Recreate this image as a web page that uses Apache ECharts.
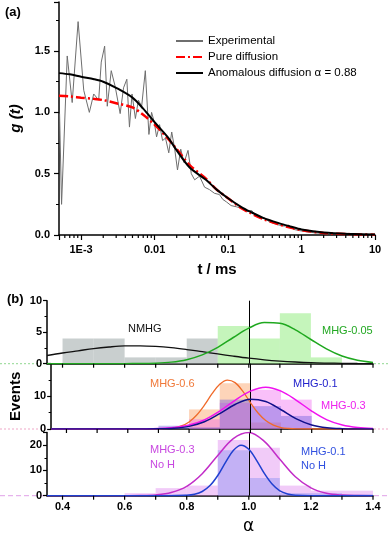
<!DOCTYPE html>
<html><head><meta charset="utf-8">
<script src="https://cdn.jsdelivr.net/npm/echarts@6/dist/echarts.min.js"></script>
<style>html,body{margin:0;padding:0;background:#fff}#c{width:389px;height:536px}</style>
</head><body><div id="c"></div>
<script>
// ---------- Panel (a): correlation curves ----------
const expT = [5.09e-4,5.42e-4,6.47e-4,7.56e-4,9.10e-4,1.086e-3,1.294e-3,1.485e-3,1.734e-3,1.88e-3,2.09e-3,2.27e-3,2.57e-3,2.91e-3,3.40e-3,3.78e-3,4.19e-3,4.55e-3,4.93e-3,5.48e-3,6.02e-3,6.67e-3,7.48e-3,8.37e-3,9.10e-3,9.90e-3,1.064e-2,1.169e-2,1.284e-2,1.409e-2,1.56e-2,1.71e-2,1.88e-2,2.05e-2,2.27e-2,2.52e-2,2.85e-2,3.16e-2,3.51e-2,4.09e-2,4.79e-2,5.59e-2,6.53e-2,7.63e-2,8.48e-2,0.095,0.11,0.13,0.15,0.18,0.21,0.23,0.27,0.31,0.36,0.42,0.5,0.58,0.67,0.79,0.95,1.2,1.5,2.0];
const expG = [0.99,0.25,1.46,1.08,1.74,1.18,1.00,1.15,1.10,1.41,1.54,1.05,1.34,1.21,0.99,1.20,1.27,0.88,1.15,0.95,1.10,1.05,1.34,0.82,1.00,0.92,0.80,0.90,0.77,0.79,0.67,0.84,0.70,0.53,0.70,0.59,0.69,0.50,0.45,0.48,0.39,0.37,0.34,0.33,0.29,0.27,0.24,0.23,0.22,0.19,0.20,0.17,0.14,0.14,0.11,0.095,0.08,0.073,0.08,0.045,0.035,0.025,0.018,0.012];
const fitT = [5e-4,7e-4,1e-3,1.5e-3,2e-3,3e-3,5e-3,7e-3,0.01,0.015,0.02,0.03,0.05,0.07,0.1,0.15,0.2,0.3,0.5,0.7,1,2,5,10];
const pureG = [1.135,1.13,1.12,1.11,1.10,1.075,1.04,0.98,0.90,0.79,0.70,0.57,0.46,0.37,0.30,0.22,0.18,0.13,0.085,0.06,0.04,0.017,0.006,0.003];
const anomG = [1.32,1.31,1.29,1.27,1.25,1.20,1.12,1.03,0.92,0.80,0.69,0.55,0.45,0.37,0.30,0.23,0.19,0.14,0.095,0.07,0.045,0.02,0.008,0.004];
const logTickValues = [1e-3,1e-2,1e-1,1,10];
const logTickLabels = ['1E-3','0.01','0.1','1','10'];

// ---------- Panel (b): alpha histograms ----------
const alphaTicks = [0.4,0.5,0.6,0.7,0.8,0.9,1.0,1.1,1.2,1.3,1.4];
const alphaWide = [0.35,0.4,0.45,0.5,0.55,0.6,0.65,0.7,0.75,0.8,0.85,0.9,0.95,1.0,1.05,1.1,1.15,1.2,1.25,1.3,1.35,1.4];
// top
const nmhgBins = [0.4,0.5,0.6,0.7,0.8];
const nmhgCounts = [4,4,1,1,4];
const nmhgFit = [1.3,1.7,2.05,2.4,2.65,2.82,2.84,2.75,2.55,2.25,1.9,1.55,1.2,0.88,0.62,0.42,0.27,0.16,0.1,0.06,0.03,0.02];
const mhg005Bins = [0.9,1.0,1.1,1.2];
const mhg005Counts = [6,4,8,1];
const mhg005Fit = [0,0,0,0,0,0.01,0.02,0.08,0.25,0.64,1.4,2.6,4.16,5.64,6.52,6.41,5.38,3.84,2.34,1.21,0.54,0.2];
// middle
const mhg06Bins = [0.8,0.9,1.0];
const mhg06Counts = [6,14,2];
const mhg06X = [0.35,0.65,0.7,0.75,0.775,0.8,0.825,0.85,0.875,0.9,0.925,0.95,0.975,1.0,1.025,1.05,1.075,1.1,1.125,1.15,1.2,1.4];
const mhg06Fit = [0,0,0.03,0.35,0.94,2.16,4.3,7.3,10.8,13.7,15.0,14.2,11.6,8.1,4.9,2.6,1.2,0.45,0.15,0.04,0,0];
const mhg01Bins = [0.7,0.8,0.9,1.0,1.1];
const mhg01Counts = [1,0.5,9,7,4];
const mhg01Fit = [0,0,0,0,0,0,0.01,0.05,0.22,0.8,2.2,4.7,7.5,9.15,8.4,5.9,3.1,1.25,0.38,0.09,0.02,0];
const mhg03Bins = [0.8,0.9,1.0,1.1];
const mhg03Counts = [3,8,12,9];
const mhg03Fit = [0,0,0,0,0,0.01,0.03,0.12,0.43,1.2,2.8,5.5,8.8,11.6,12.8,11.6,8.8,5.5,2.8,1.2,0.43,0.12];
// bottom
const mhg03nhBins = [0.6,0.7,0.8,0.9,1.0,1.1,1.2,1.3];
const mhg03nhCounts = [1,3,4,22,19,4,2,2];
const mhg03nhFit = [0,0,0,0,0,0.01,0.06,0.32,1.25,3.7,8.7,15.9,22.6,25.0,21.5,14.4,7.5,3.1,0.97,0.24,0.05,0.01];
const mhg01nhBins = [0.7,0.9,1.0,1.1,1.2,1.3];
const mhg01nhCounts = [0.5,18,7,1,1,0.5];
const mhg01nhX = [0.35,0.75,0.8,0.825,0.85,0.875,0.9,0.925,0.95,0.975,1.0,1.025,1.05,1.075,1.1,1.125,1.15,1.2,1.4];
const mhg01nhFit = [0,0.01,0.16,0.57,1.67,4.0,8.0,13.2,17.9,20.0,18.4,14.0,8.8,4.6,1.9,0.69,0.2,0.01,0];
const BIN_W = 0.1;

const FONT = 'Liberation Sans, Arial, sans-serif';
const zip = (xs, ys) => xs.map((x, i) => [x, ys[i]]);

function histSeries(idx, bins, counts, fill, extra) {
  return Object.assign({
    type: 'custom', xAxisIndex: idx, yAxisIndex: idx, silent: true,
    data: zip(bins, counts),
    encode: {x: 0, y: 1},
    renderItem: function (params, api) {
      const x0 = api.value(0), h = api.value(1);
      const p0 = api.coord([x0, h]);
      const p1 = api.coord([x0 + BIN_W, 0]);
      return {type: 'rect', shape: {x: p0[0], y: p0[1], width: p1[0] - p0[0], height: p1[1] - p0[1]},
        style: {fill: fill}};
    }
  }, extra || {});
}
function curveSeries(idx, xs, ys, color, width, extra) {
  return Object.assign({
    type: 'line', xAxisIndex: idx, yAxisIndex: idx, data: zip(xs, ys),
    smooth: 0.35, symbol: 'none', silent: true,
    lineStyle: {color: color, width: width || 1.3}, z: 5
  }, extra || {});
}
function tickSeries(idx, values, len) {
  return {
    type: 'custom', xAxisIndex: idx, yAxisIndex: idx, silent: true, z: 10,
    data: values.map(v => [v, 0]), encode: {x: 0, y: 1},
    renderItem: function (params, api) {
      const p = api.coord([api.value(0), 0]);
      return {type: 'line', shape: {x1: p[0], y1: p[1], x2: p[0], y2: p[1] + len},
        style: {stroke: '#000', lineWidth: 1.2}};
    }
  };
}
const vLine = {silent: true, symbol: ['none', 'none'], data: [{xAxis: 1.0}],
  lineStyle: {color: '#000', width: 1, type: 'solid'}, label: {show: false}};

// minor log tick positions (2..9 in each decade)
const logMinor = [];
for (let d = -4; d <= 0; d++) for (let m = 2; m <= 9; m++) {
  const v = m * Math.pow(10, d);
  if (v > 5e-4 && v < 10) logMinor.push(v);
}

const axisLineStyle = {show: true, onZero: false, lineStyle: {color: '#000', width: 1.5}};
const labelStyle = {color: '#000', fontWeight: 'bold', fontSize: 11, fontFamily: FONT};

function bAxisX(idx, showLabel) {
  return {
    type: 'value', gridIndex: idx, min: 0.35, max: 1.4, interval: 0.05,
    axisLine: axisLineStyle, axisTick: {show: false}, splitLine: {show: false},
    axisLabel: Object.assign({show: showLabel, margin: 6, formatter: function (v) {
      const k = Math.round(v * 100);
      return k % 20 === 0 ? (k / 100).toFixed(1) : '';
    }}, labelStyle)
  };
}
function bAxisY(idx, max, interval, extra) {
  return Object.assign({
    type: 'value', gridIndex: idx, min: 0, max: max, interval: interval,
    axisLine: {show: true, lineStyle: {color: '#000', width: 1.5}},
    axisTick: {show: true, length: 4, lineStyle: {width: 1.2}},
    minorTick: {show: true, splitNumber: 2, length: 2.5, lineStyle: {color: '#000', width: 1}},
    splitLine: {show: false},
    axisLabel: Object.assign({margin: 5, showMaxLabel: interval === 5}, labelStyle)
  }, extra || {});
}

const option = {
  animation: false,
  backgroundColor: '#fff',
  textStyle: {fontFamily: FONT},
  grid: [
    {left: 57, right: 14, top: 2, height: 233},
    {left: 47, right: 16, top: 300.7, height: 63},
    {left: 47, right: 16, top: 363.7, height: 65.3},
    {left: 47, right: 16, top: 432.5, height: 63.2}
  ],
  legend: {
    data: ['Experimental', 'Pure diffusion', 'Anomalous diffusion \u03b1 = 0.88'],
    orient: 'vertical', left: 170, top: 30, itemWidth: 27, itemHeight: 10, itemGap: 4,
    itemStyle: {opacity: 0},
    textStyle: {fontSize: 11.5, color: '#000', fontFamily: FONT}
  },
  xAxis: [
    {
      type: 'log', gridIndex: 0, logBase: 10, min: 5e-4, max: 10,
      axisLine: axisLineStyle,
      axisTick: {show: true, length: 5, lineStyle: {width: 1.2}},
      minorTick: {show: false}, splitLine: {show: false},
      axisLabel: Object.assign({margin: 9, formatter: function (v) {
        for (let i = 0; i < logTickValues.length; i++) {
          if (Math.abs(Math.log10(v) - Math.log10(logTickValues[i])) < 1e-6) return logTickLabels[i];
        }
        return '';
      }}, labelStyle),
      name: 't / ms', nameLocation: 'middle', nameGap: 27,
      nameTextStyle: {fontWeight: 'bold', fontSize: 15, color: '#000', fontFamily: FONT}
    },
    bAxisX(1, false), bAxisX(2, false), bAxisX(3, true)
  ],
  yAxis: [
    {
      type: 'value', gridIndex: 0, min: 0, max: 1.9, interval: 0.5,
      axisLine: {show: true, lineStyle: {color: '#000', width: 1.5}},
      axisTick: {show: true, length: 5, lineStyle: {width: 1.2}},
      minorTick: {show: true, splitNumber: 2, length: 3, lineStyle: {color: '#000', width: 1}},
      splitLine: {show: false},
      axisLabel: Object.assign({margin: 9, showMaxLabel: false, formatter: v => v.toFixed(1)}, labelStyle),
      name: 'g (t)', nameLocation: 'middle', nameGap: 36,
      nameTextStyle: {fontWeight: 'bold', fontStyle: 'italic', fontSize: 15, color: '#000', fontFamily: FONT}
    },
    bAxisY(1, 10, 5),
    bAxisY(2, 20, 10, {name: 'Events', nameLocation: 'middle', nameGap: 28,
      nameTextStyle: {fontWeight: 'bold', fontSize: 15, color: '#000', fontFamily: FONT}}),
    bAxisY(3, 25, 10)
  ],
  series: [
    // panel (a)
    {name: 'Experimental', type: 'line', xAxisIndex: 0, yAxisIndex: 0, data: zip(expT, expG),
      symbol: 'none', lineStyle: {color: '#6e6e6e', width: 1}, z: 2, silent: true},
    {name: 'Pure diffusion', type: 'line', xAxisIndex: 0, yAxisIndex: 0, data: zip(fitT, pureG),
      smooth: 0.3, symbol: 'none', lineStyle: {color: '#ff0000', width: 2.5, type: [9, 3, 2, 3]}, z: 3, silent: true},
    {name: 'Anomalous diffusion \u03b1 = 0.88', type: 'line', xAxisIndex: 0, yAxisIndex: 0, data: zip(fitT, anomG),
      smooth: 0.3, symbol: 'none', lineStyle: {color: '#000', width: 2}, z: 4, silent: true},
    tickSeries(0, logMinor, 3),

    // panel (b) top
    histSeries(1, nmhgBins, nmhgCounts, 'rgba(165,175,175,0.6)'),
    histSeries(1, mhg005Bins, mhg005Counts, 'rgba(140,235,120,0.5)'),
    curveSeries(1, alphaWide, nmhgFit, '#111', 1.3),
    curveSeries(1, alphaWide, mhg005Fit, '#1fa81f', 1.5, {markLine: vLine}),
    tickSeries(1, alphaTicks, 4),

    // panel (b) middle
    histSeries(2, mhg06Bins, mhg06Counts, 'rgba(250,160,100,0.45)'),
    histSeries(2, mhg03Bins, mhg03Counts, 'rgba(240,90,240,0.38)'),
    histSeries(2, mhg01Bins, mhg01Counts, 'rgba(100,90,220,0.4)'),
    curveSeries(2, mhg06X, mhg06Fit, '#f06a2a', 1.3),
    curveSeries(2, alphaWide, mhg03Fit, '#f012f0', 1.5),
    curveSeries(2, alphaWide, mhg01Fit, '#10108a', 1.5, {markLine: vLine}),
    tickSeries(2, alphaTicks, 4),

    // panel (b) bottom
    histSeries(3, mhg03nhBins, mhg03nhCounts, 'rgba(225,140,240,0.45)'),
    histSeries(3, mhg01nhBins, mhg01nhCounts, 'rgba(130,140,240,0.42)'),
    curveSeries(3, alphaWide, mhg03nhFit, '#c22cc8', 1.5),
    curveSeries(3, mhg01nhX, mhg01nhFit, '#2040d0', 1.5, {markLine: vLine}),
    tickSeries(3, alphaTicks, 4)
  ],
  graphic: [
    {type: 'text', left: 5, top: 6, style: {text: '(a)', font: 'bold 13px ' + FONT, fill: '#000'}},
    {type: 'text', left: 7, top: 293, style: {text: '(b)', font: 'bold 13px ' + FONT, fill: '#000'}},
    {type: 'text', left: 243, top: 518, style: {text: '\u03b1', font: '17px DejaVu Sans, sans-serif', fill: '#000'}},
    {type: 'text', left: 128, top: 323, style: {text: 'NMHG', font: '11px ' + FONT, fill: '#111'}},
    {type: 'text', left: 322, top: 325, style: {text: 'MHG-0.05', font: '11px ' + FONT, fill: '#22a822'}},
    {type: 'text', left: 150, top: 378, style: {text: 'MHG-0.6', font: '11px ' + FONT, fill: '#f07838'}},
    {type: 'text', left: 293, top: 378, style: {text: 'MHG-0.1', font: '11px ' + FONT, fill: '#2222cc'}},
    {type: 'text', left: 321, top: 400, style: {text: 'MHG-0.3', font: '11px ' + FONT, fill: '#ee22ee'}},
    {type: 'text', left: 150, top: 442, style: {text: 'MHG-0.3\nNo H', font: '11px ' + FONT, fill: '#c848e0', lineHeight: 15}},
    {type: 'text', left: 301, top: 445, style: {text: 'MHG-0.1\nNo H', font: '11px ' + FONT, fill: '#3050e0', lineHeight: 14}},
    {type: 'line', shape: {x1: 0, y1: 363.7, x2: 46, y2: 363.7}, style: {stroke: '#8fd88f', lineDash: [2, 2], lineWidth: 1}},
    {type: 'line', shape: {x1: 374, y1: 363.7, x2: 389, y2: 363.7}, style: {stroke: '#8fd88f', lineDash: [2, 2], lineWidth: 1}},
    {type: 'line', shape: {x1: 0, y1: 429, x2: 46, y2: 429}, style: {stroke: '#f0a8c8', lineDash: [2, 2], lineWidth: 1}},
    {type: 'line', shape: {x1: 374, y1: 429, x2: 389, y2: 429}, style: {stroke: '#f0a8c8', lineDash: [2, 2], lineWidth: 1}},
    {type: 'line', shape: {x1: 0, y1: 495.7, x2: 46, y2: 495.7}, style: {stroke: '#e0a0e8', lineDash: [5, 3], lineWidth: 1}},
    {type: 'line', shape: {x1: 374, y1: 495.7, x2: 389, y2: 495.7}, style: {stroke: '#e0a0e8', lineDash: [5, 3], lineWidth: 1}}
  ]
};
const chart = echarts.init(document.getElementById('c'), null, {renderer: 'canvas'});
chart.setOption(option);
</script>
</body></html>
